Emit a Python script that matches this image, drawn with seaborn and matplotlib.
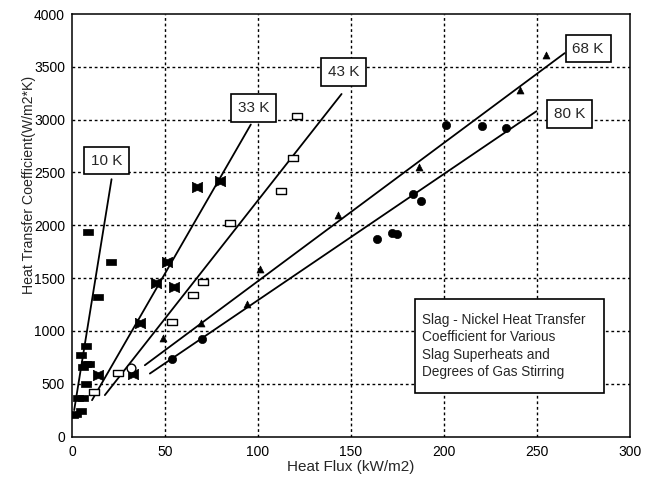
import matplotlib
matplotlib.use("Agg")
import matplotlib.pyplot as plt
import seaborn as sns
import pandas as pd
from matplotlib.patches import Rectangle

# ---------------- data ----------------
k10_x = [0.8, 2.2, 4.8, 3.1, 6.1, 7.5, 6.1, 7.5, 9.3, 4.8, 7.5, 14.1, 20.8, 8.8]
k10_y = [200, 215, 245, 360, 365, 500, 655, 690, 690, 769, 860, 1320, 1650, 1932]

k33_x = [13.8, 33.0, 36.6, 45.2, 51.2, 55.0, 67.0, 79.6]
k33_y = [580, 596, 1074, 1451, 1656, 1420, 2363, 2420]

k43_x = [12.0, 24.9, 53.9, 65.2, 70.6, 85.0, 112.2, 119.0, 121.0]
k43_y = [425, 602, 1083, 1344, 1467, 2017, 2325, 2634, 3033]

k68_x = [49.1, 69.2, 94.4, 101.1, 143.2, 186.7, 240.9, 255.2]
k68_y = [936, 1074, 1257, 1587, 2099, 2552, 3285, 3608]

k80_x = [53.6, 69.7, 163.8, 172.0, 175.0, 183.5, 187.5, 201.4, 220.3, 233.3]
k80_y = [733, 926, 1870, 1930, 1915, 2300, 2231, 2948, 2939, 2923]

extra_x = [31.7]
extra_y = [649]

# fitted lines (start / end points)
line_names = ["10 K", "33 K", "43 K", "68 K", "80 K"]
line_x0 = [1.2, 10.8, 17.7, 39.2, 41.9]
line_y0 = [250, 344, 392, 675, 596]
line_x1 = [21.3, 96.2, 145.0, 265.0, 249.8]
line_y1 = [2436, 2954, 3243, 3630, 3080]

# label box centres
label_x = [18.7, 97.7, 145.9, 277.6, 267.7]
label_y = [2613, 3113, 3450, 3673, 3054]

x_ticks = [0, 50, 100, 150, 200, 250, 300]
y_ticks = [0, 500, 1000, 1500, 2000, 2500, 3000, 3500, 4000]

note_text = ("Slag - Nickel Heat Transfer\nCoefficient for Various\n"
             "Slag Superheats and\nDegrees of Gas Stirring")

# ---------------- style ----------------
sns.set_style("white")
plt.rcParams["font.family"] = ["Liberation Sans", "DejaVu Sans"]

fig = plt.figure(figsize=(6.54, 4.79), dpi=100)
ax = fig.add_axes([0.110, 0.0887, 0.853, 0.882])

# grid
for t in x_ticks[1:-1]:
    ax.axvline(t, color="black", lw=1.0, ls=(0, (2, 2)), zorder=0)
for t in y_ticks[1:-1]:
    ax.axhline(t, color="black", lw=1.0, ls=(0, (2, 2)), zorder=0)

# lines
lines = pd.DataFrame({
    "name": sum([[n, n] for n in line_names], []),
    "x": sum([[a, b] for a, b in zip(line_x0, line_x1)], []),
    "y": sum([[a, b] for a, b in zip(line_y0, line_y1)], []),
})
for n in line_names:
    sub = lines[lines["name"] == n]
    sns.lineplot(data=sub, x="x", y="y", ax=ax, color="black", lw=1.3,
                 sort=False, estimator=None, legend=False, zorder=2)

# markers
bowtie = [(-1, 1), (0, 0.55), (1, 1), (1, -1), (0, -0.55), (-1, -1), (-1, 1)]
rect = [(-1, -0.6), (1, -0.6), (1, 0.6), (-1, 0.6), (-1, -0.6)]

sns.scatterplot(x=k10_x, y=k10_y, ax=ax, marker=rect, s=45, color="black",
                edgecolor="black", linewidth=0.5, zorder=3)
sns.scatterplot(x=k33_x, y=k33_y, ax=ax, marker=bowtie, s=55, color="black",
                edgecolor="black", linewidth=0.5, zorder=3)
sns.scatterplot(x=k43_x, y=k43_y, ax=ax, marker=rect, s=50, color="white",
                edgecolor="black", linewidth=1.0, zorder=3)
sns.scatterplot(x=k68_x, y=k68_y, ax=ax, marker="^", s=25, color="black",
                edgecolor="black", linewidth=0.5, zorder=3)
sns.scatterplot(x=k80_x, y=k80_y, ax=ax, marker="o", s=35, color="black",
                edgecolor="black", linewidth=0.5, zorder=3)
sns.scatterplot(x=extra_x, y=extra_y, ax=ax, marker="o", s=40, color="white",
                edgecolor="black", linewidth=1.0, zorder=3)

# line labels
for n, lx, ly in zip(line_names, label_x, label_y):
    ax.text(lx, ly, n, ha="center", va="center", fontsize=11, zorder=5,
            bbox=dict(boxstyle="square,pad=0.45", fc="white", ec="black", lw=1.2))

# note box
ax.add_patch(Rectangle((184.4, 413), 101.6, 891, fc="white", ec="black",
                       lw=1.2, zorder=4))
ax.text(188.5, 858, note_text, ha="left", va="center", fontsize=9.8,
        linespacing=1.3, zorder=5)

# axes
ax.set_xlim(0, 300)
ax.set_ylim(0, 4000)
ax.set_xticks(x_ticks)
ax.set_yticks(y_ticks)
ax.tick_params(axis="both", direction="inout", length=6, width=1,
               colors="black", labelsize=10, pad=2)
ax.tick_params(axis="x", pad=3)
for sp in ax.spines.values():
    sp.set_color("black")
    sp.set_linewidth(1.1)
ax.set_xlabel("Heat Flux (kW/m2)", fontsize=11, labelpad=1)
ax.set_ylabel("Heat Transfer Coefficient(W/m2*K)", fontsize=10.2, labelpad=3)
ax.yaxis.set_label_coords(-0.0645, 0.595)

fig.savefig("out.png", dpi=100)
